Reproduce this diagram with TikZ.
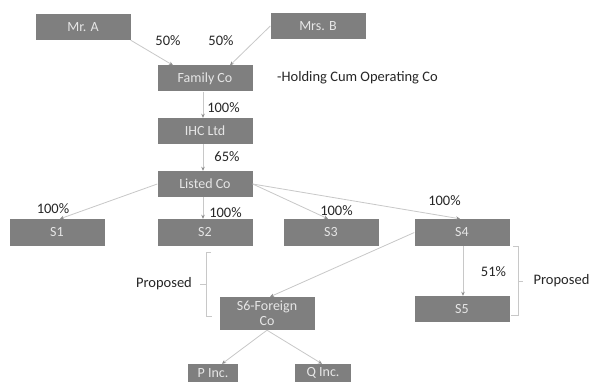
\documentclass[tikz,border=0pt]{standalone}
\usepackage{fontspec}
\setmainfont{Carlito}
\usetikzlibrary{arrows.meta}
\definecolor{boxfill}{HTML}{7F7F7F}
\definecolor{boxtext}{HTML}{E6E6E6}
\definecolor{linec}{HTML}{C8C8C8}
\definecolor{tipc}{HTML}{8C8C8C}
\definecolor{labc}{HTML}{262626}
\begin{document}
\begin{tikzpicture}[x=1pt,y=-1pt,
  box/.style={fill=boxfill, text=boxtext, minimum width=95pt, minimum height=26pt, inner sep=0pt, align=center, font=\fontsize{14}{15}\selectfont},
  lab/.style={text=labc, inner sep=0pt, font=\fontsize{14.5}{16}\selectfont},
  conn/.style={draw=linec, line width=0.8pt, -{Stealth[length=4pt,width=3.5pt,color=tipc]}},
  brk/.style={draw=linec, line width=0.8pt}]
\useasboundingbox (0,0) rectangle (590,382);
\clip (0,0) rectangle (590,382);
\fill[white] (0,0) rectangle (590,382);
% nodes
\node[box] (a) at (83,27) {Mr. A};
\node[box] (b) at (318,26) {Mrs. B};
\node[box] (fam) at (205,78.5) {Family Co};
\node[box] (ihc) at (205,131) {IHC Ltd};
\node[box] (lc) at (205,184) {Listed Co};
\node[box, minimum height=27pt] (s1) at (57,232.5) {S1};
\node[box, minimum height=27pt] (s2) at (205,232.5) {S2};
\node[box, minimum height=27pt] (s3) at (331,232.5) {S3};
\node[box, minimum height=27pt] (s4) at (462,232.5) {S4};
\node[box] (s5) at (462,309) {S5};
\node[box, minimum height=33pt] (s6) at (267,313.5) {S6-Foreign\\Co};
\node[box, minimum width=50pt, minimum height=18pt] (p) at (213,373) {P Inc.};
\node[box, minimum width=56pt, minimum height=18pt] (q) at (323,373) {Q Inc.};
% connectors
\draw[conn] (a.south east) -- ([xshift=-32pt]fam.north);
\draw[conn] (b.west) -- ([xshift=25pt]fam.north);
\draw[conn] ([xshift=-2pt]fam.south) -- ([xshift=-2pt]ihc.north);
\draw[conn] ([xshift=-2pt]ihc.south) -- ([xshift=-2pt]lc.north);
\draw[conn] (lc.west) -- ([xshift=3pt]s1.north);
\draw[conn] ([xshift=-2pt]lc.south) -- ([xshift=-2pt]s2.north);
\draw[conn] (lc.east) -- ([xshift=-3pt]s3.north);
\draw[conn] (lc.east) -- ([xshift=-2pt]s4.north);
\draw[conn] (s4.west) -- ([xshift=3pt]s6.north);
\draw[conn] ([xshift=1pt]s4.south) -- ([xshift=1pt]s5.north);
\draw[conn] (s6.south) -- ([xshift=9pt]p.north);
\draw[conn] (s6.south) -- ([xshift=-1pt]q.north);
% brackets
\coordinate (bl1) at (211,252);
\coordinate (bl2) at (206,252);
\coordinate (bl3) at (206,316);
\coordinate (bl4) at (212,316);
\coordinate (blm) at (206,284);
\coordinate (blt) at (200,284);
\draw[brk] (bl1) -- (bl2) -- (bl3) -- (bl4);
\draw[brk] (blm) -- (blt);
\coordinate (br1) at (513,246);
\coordinate (br2) at (518,246);
\coordinate (br3) at (518,315);
\coordinate (br4) at (511,315);
\coordinate (brm) at (518,281);
\coordinate (brt) at (523,281);
\draw[brk] (br1) -- (br2) -- (br3) -- (br4);
\draw[brk] (brm) -- (brt);
% labels
\node[lab] (l1) at (168,41) {50\%};
\node[lab] (l2) at (221,41) {50\%};
\node[lab] (l3) at (223.5,108) {100\%};
\node[lab] (l4) at (227,157) {65\%};
\node[lab] (l5) at (53,209) {100\%};
\node[lab] (l6) at (225.5,213) {100\%};
\node[lab] (l7) at (336.5,211) {100\%};
\node[lab] (l8) at (444.5,201) {100\%};
\node[lab] (l9) at (493.5,272) {51\%};
\node[lab] (pl) at (164,284) {Proposed};
\node[lab] (pr) at (561.5,281) {Proposed};
\node[lab, anchor=west] (hold) at (277,78) {-Holding Cum Operating Co};
\end{tikzpicture}
\end{document}
